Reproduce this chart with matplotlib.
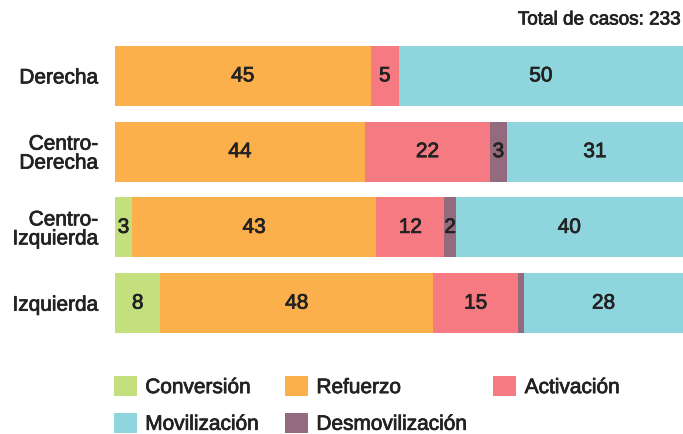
import matplotlib; matplotlib.use("Agg")
import matplotlib.pyplot as plt
import matplotlib.patheffects as pe
from matplotlib.patches import Patch

plt.rcParams["font.family"] = ["Liberation Sans", "DejaVu Sans"]

# ---- datos ----
grupos = ["Derecha", "Centro-\nDerecha", "Centro-\nIzquierda", "Izquierda"]
categorias = ["Conversión", "Refuerzo", "Activación", "Desmovilización", "Movilización"]
conversion = [0, 0, 3, 8]
refuerzo = [45, 44, 43, 48]
activacion = [5, 22, 12, 15]
desmovilizacion = [0, 3, 2, 1]
movilizacion = [50, 31, 40, 28]
total_casos = 233

series = [conversion, refuerzo, activacion, desmovilizacion, movilizacion]
colores = ["#c3df7e", "#fcb04b", "#f67a82", "#936a7e", "#8fd5dd"]
TXT = "#222222"
medio = [pe.withStroke(linewidth=0.55, foreground=TXT)]  # simula peso "medium"

W, H = 683, 435
fig = plt.figure(figsize=(W / 100, H / 100), dpi=100)
ax = fig.add_axes([115 / W, 1 - 342 / H, 568 / W, 303 / H])

ypos = list(range(len(grupos)))
izq = [0] * len(grupos)
for vals, col in zip(series, colores):
    bars = ax.barh(ypos, vals, left=izq, height=0.79, color=col, linewidth=0)
    for b, v in zip(bars, vals):
        if v >= 2:
            ax.text(b.get_x() + b.get_width() / 2, b.get_y() + b.get_height() / 2,
                    str(v), ha="center", va="center", fontsize=15, color=TXT,
                    path_effects=medio)
    izq = [a + v for a, v in zip(izq, vals)]

ax.set_xlim(0, 100)
ax.set_ylim(len(grupos) - 0.5, -0.5)
ax.set_yticks(ypos)
ax.set_yticklabels(grupos, fontsize=15, color=TXT, linespacing=1.0)
for t in ax.get_yticklabels():
    t.set_path_effects(medio)
ax.tick_params(axis="y", length=0, pad=12)
ax.set_xticks([])
for s in ax.spines.values():
    s.set_visible(False)

fig.text(680 / W, 1 - 21 / H, f"Total de casos: {total_casos}", ha="right", va="center",
         fontsize=13.6, color=TXT, path_effects=medio)

# leyenda: orden por columnas (ncol=3)
orden = [0, 4, 1, 3, 2]
handles = [Patch(facecolor=colores[i], edgecolor="none", label=categorias[i]) for i in orden]
leg = fig.legend(handles=handles, ncol=3, loc="upper left", bbox_to_anchor=(114 / W, 1 - 377 / H),
                 frameon=False, fontsize=15, borderpad=0, borderaxespad=0,
                 handlelength=1.1, handleheight=1.1, handletextpad=0.4,
                 labelspacing=0.75, columnspacing=1.25, labelcolor=TXT)
for t in leg.get_texts():
    t.set_path_effects(medio)

fig.savefig("out.png", dpi=100)
